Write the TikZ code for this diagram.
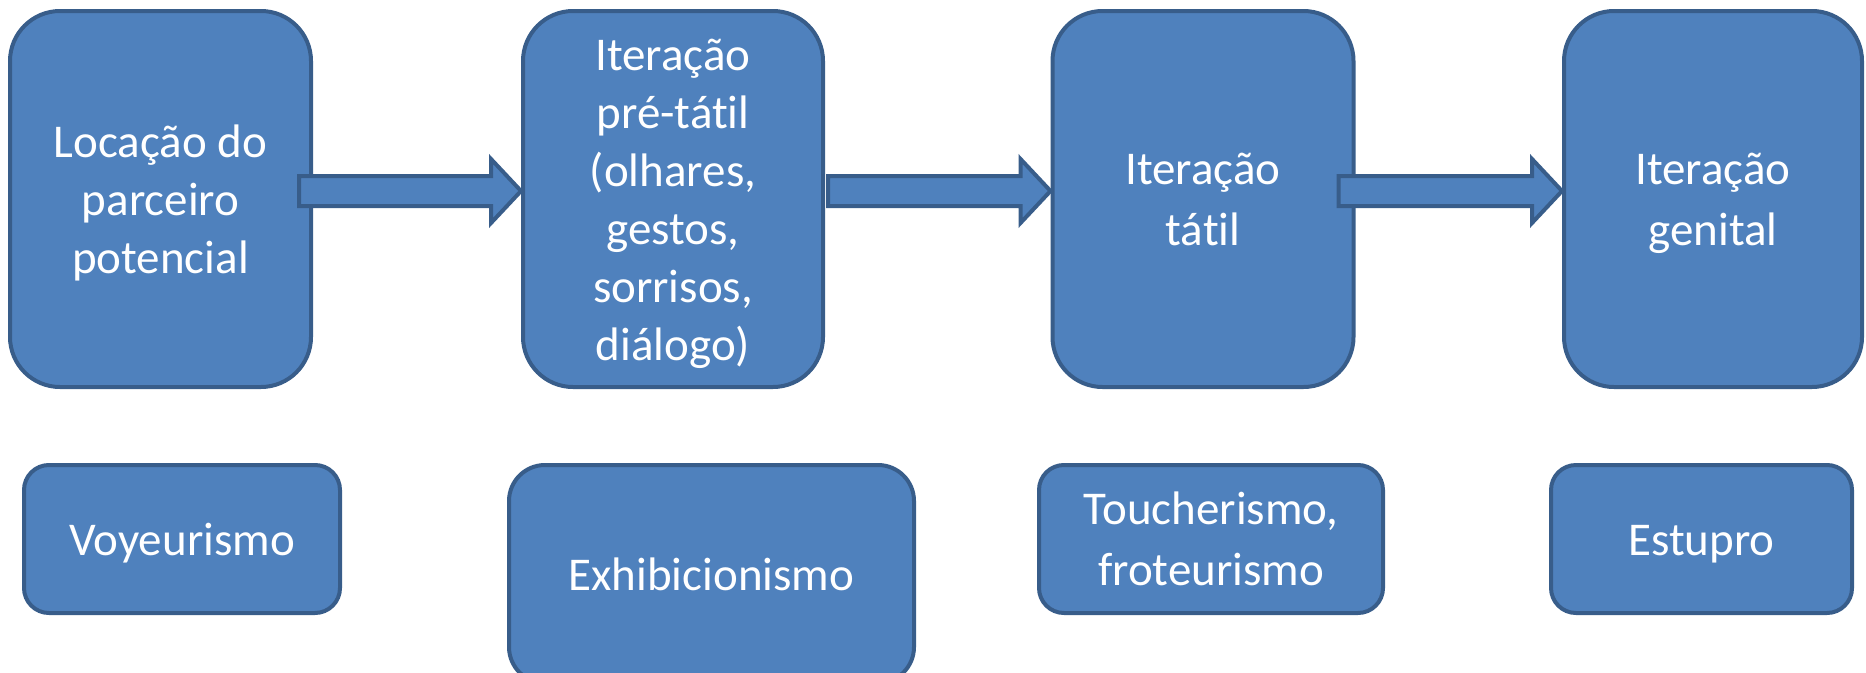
\documentclass[tikz,border=0pt]{standalone}
\usepackage{fontspec}
\setmainfont{Carlito}[Ligatures={NoCommon,NoContextual}]
\usetikzlibrary{calc}
\definecolor{boxblue}{RGB}{79,129,189}
\definecolor{boxedge}{RGB}{56,93,138}
\newcommand{\lnstrut}{\rule[-14pt]{0pt}{60pt}}
\tikzset{
  stage/.style={rectangle, draw=boxedge, fill=boxblue, text=white,
    align=center, line width=4pt, rounded corners=50pt, inner sep=0pt,
    minimum width=301pt, minimum height=376pt,
    font=\fontsize{47}{58}\selectfont},
  deviance/.style={stage, rounded corners=25pt, minimum height=148pt},
  blockarrow/.style={draw=boxedge, fill=boxblue, line width=4pt}
}

\begin{document}
\begin{tikzpicture}[x=1pt, y=-1pt]
  \useasboundingbox (0,0) rectangle (1866,672);

  % Stages
  \node[stage] (loc) at (160.5,199) {\lnstrut Locação do\\parceiro\\potencial\lnstrut};
  \node[stage, minimum width=300pt] (pre) at (673,199) {\lnstrut Iteração\\pré-tátil\\(olhares,\\gestos,\\sorrisos,\\diálogo)\lnstrut};
  \node[stage] (tat) at (1203,199) {\lnstrut Iteração\\tátil\lnstrut};
  \node[stage, minimum width=298pt] (gen) at (1713,199) {\lnstrut Iteração\\genital\lnstrut};

  % Deviations
  \node[deviance, minimum width=316pt] (voy) at (182,539) {\lnstrut Voyeurismo};
  \node[deviance, minimum width=405pt, minimum height=218pt, rounded corners=36pt] (exh) at (711.5,574) {\lnstrut Exhibicionismo};
  \node[deviance, minimum width=344pt] (tou) at (1211,539) {\lnstrut Toucherismo,\\froteurismo\lnstrut};
  \node[deviance] (est) at (1701.5,539) {\lnstrut Estupro};

  % Arrows
  \coordinate (a1s) at ($(loc.east)+(-14,-8)$);
  \coordinate (a1e) at ($(pre.west)+(0,-8)$);
  \coordinate (a2s) at ($(pre.east)+(3,-8)$);
  \coordinate (a2e) at ($(tat.west)+(0,-8)$);
  \coordinate (a3s) at ($(tat.east)+(-17,-8)$);
  \coordinate (a3e) at ($(gen.west)+(0,-8)$);
  \draw[blockarrow] ($(a1s)+(0,-15)$) -- ($(a1e)+(-30,-15)$) -- ($(a1e)+(-30,-32)$) -- (a1e)
    -- ($(a1e)+(-30,32)$) -- ($(a1e)+(-30,15)$) -- ($(a1s)+(0,15)$) -- cycle;
  \draw[blockarrow] ($(a2s)+(0,-15)$) -- ($(a2e)+(-30,-15)$) -- ($(a2e)+(-30,-32)$) -- (a2e)
    -- ($(a2e)+(-30,32)$) -- ($(a2e)+(-30,15)$) -- ($(a2s)+(0,15)$) -- cycle;
  \draw[blockarrow] ($(a3s)+(0,-15)$) -- ($(a3e)+(-30,-15)$) -- ($(a3e)+(-30,-32)$) -- (a3e)
    -- ($(a3e)+(-30,32)$) -- ($(a3e)+(-30,15)$) -- ($(a3s)+(0,15)$) -- cycle;
\end{tikzpicture}
\end{document}
